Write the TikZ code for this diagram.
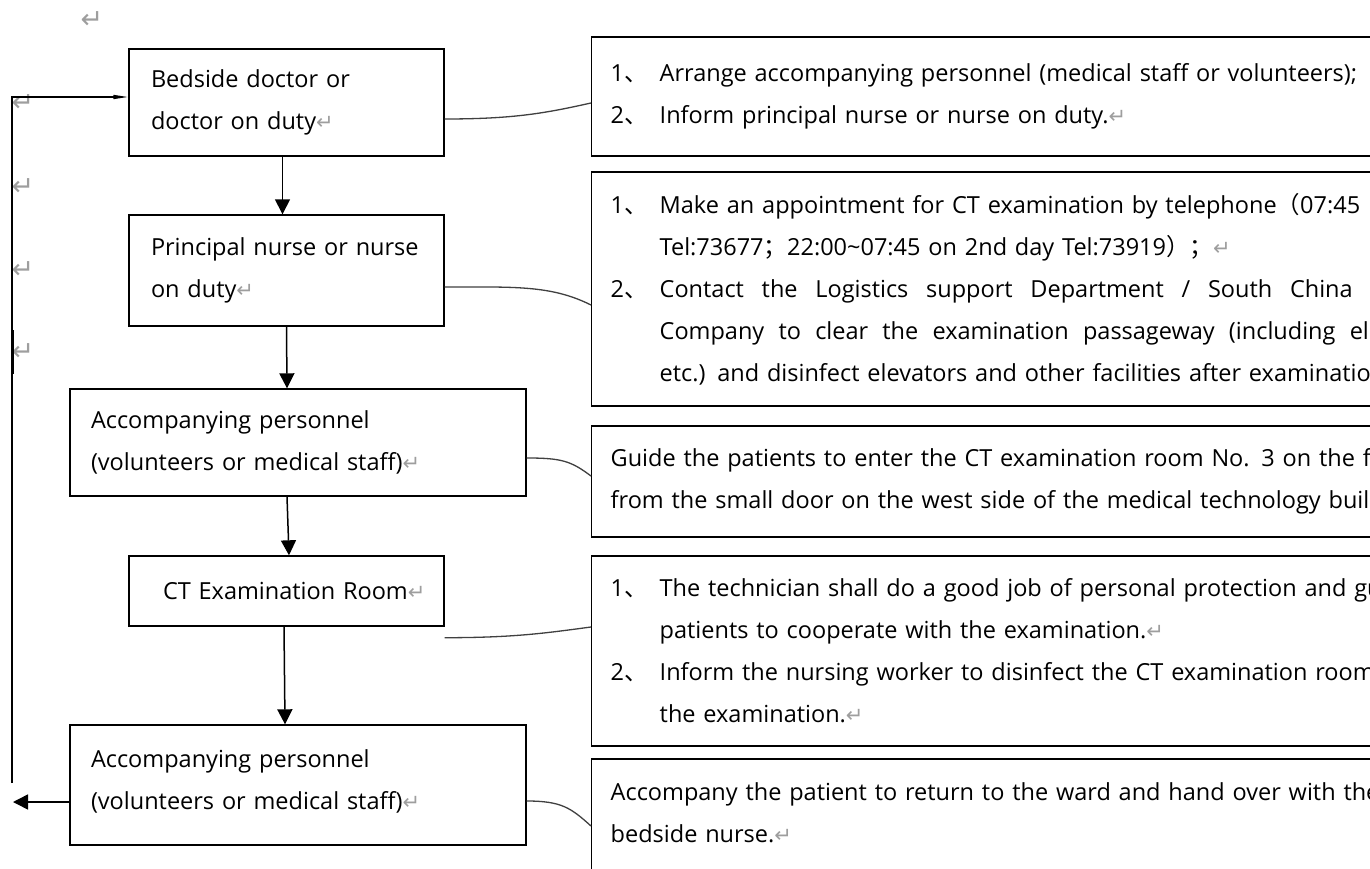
\documentclass[tikz,border=0pt]{standalone}
\usepackage{fontspec}
\setmainfont{Open Sans}
\newfontfamily\cjk{Noto Sans CJK SC}
\newfontfamily\symfont{DejaVu Sans}
\usetikzlibrary{arrows.meta,calc}

\newcommand{\mainsize}{\fontsize{23.5}{42}\selectfont}
\newcommand{\pmk}{{\symfont\fontsize{21}{21}\selectfont\textcolor{black!38}{↵}}}
\newcommand{\itemno}[1]{\makebox[49pt][l]{#1{\cjk 、}}}
\newcommand{\indentno}{\hspace*{49pt}}
\newcommand{\spreadline}[2]{\makebox[#1][s]{\spaceskip=0.26em plus 1fil\relax #2}}

\tikzset{
  stepbox/.style={draw, line width=1.4pt, inner xsep=22pt, align=left, font=\mainsize},
  notebox/.style={draw, line width=1.4pt, anchor=west, inner xsep=19pt, text width=1000pt, align=left, font=\mainsize},
  flow/.style={line width=1.5pt, -{Triangle[length=15pt,width=15pt]}},
  link/.style={line width=1.3pt, black!75},
  pmark/.style={text=black!38, font=\symfont\fontsize{27}{27}\selectfont, inner sep=0pt}
}

\begin{document}
\begin{tikzpicture}[x=1pt, y=-1pt]
	\useasboundingbox (0,0) rectangle (1370,869);
	\fill[white] (0,0) rectangle (1370,869);
	\clip (0,0) rectangle (1370,869);

	% steps on the left
	\node[stepbox, text width=271pt, minimum height=107pt] (b1) at (286.5,102.5) {Bedside doctor or\\doctor on duty\pmk};
	\node[stepbox, text width=271pt, minimum height=111pt] (b2) at (286.5,270.5) {\mbox{Principal nurse or nurse}\\on duty\pmk};
	\node[stepbox, inner xsep=21pt, text width=414pt, minimum height=107pt] (b3) at (298,442.5) {Accompanying personnel\\\mbox{(volunteers or medical staff)\pmk}};
	\node[stepbox, text width=271pt, minimum height=70pt] (b4) at (286.5,591) {\hspace*{12pt}\mbox{CT Examination Room\pmk}};
	\node[stepbox, inner xsep=21pt, text width=414pt, minimum height=120pt] (b5) at (298,785) {Accompanying personnel\\\mbox{(volunteers or medical staff)\pmk}\\[-32pt]\mbox{}};

	% notes on the right
	\node[notebox, minimum height=119pt] (r1) at (591,96.5) {\itemno{1}Arrange accompanying personnel (medical staff or volunteers);\\
		\itemno{2}Inform principal nurse or nurse on duty.\pmk};
	\node[notebox, minimum height=234pt] (r2) at (591,289) {\itemno{1}Make an appointment for CT examination by telephone{\cjk （}07:45\\
		\indentno Tel:73677{\cjk ；}22:00\textasciitilde07:45 on 2nd day Tel:73919{\cjk ）；}\pmk\\
		\itemno{2}\spreadline{693pt}{Contact the Logistics support Department / South China}\\
		\indentno\spreadline{790pt}{Company to clear the examination passageway (including elevators}\\
		\indentno etc.) and disinfect elevators and other facilities after examination};
	\node[notebox, minimum height=111pt] (r3) at (591,481.5) {Guide the patients to enter the CT examination room No. 3 on the first\\
		from the small door on the west side of the medical technology building};
	\node[notebox, minimum height=190pt] (r4) at (591,651) {\itemno{1}The technician shall do a good job of personal protection and guide\\
		\indentno patients to cooperate with the examination.\pmk\\
		\itemno{2}Inform the nursing worker to disinfect the CT examination room\\
		\indentno the examination.\pmk};
	\node[notebox, minimum height=150pt] (r5) at (591,834) {Accompany the patient to return to the ward and hand over with the\\
		bedside nurse.\pmk\\ \mbox{}};

	% stray marks
	\node[pmark] (m0) at (92,20) {↵};
	\node[pmark] (m1) at (23,103) {↵};
	\node[pmark] (m2) at (23,187) {↵};
	\node[pmark] (m3) at (23,270) {↵};
	\node[pmark] (m4) at (23,352) {↵};

	% flow
	\draw[flow] ($(b1.south)+(-4,0)$) -- ($(b2.north)+(-4,0)$);
	\draw[flow] (b2.south) -- ($(b3.north)+(-11,0)$);
	\draw[flow] ($(b3.south)+(-11,0)$) -- ($(b4.north)+(2.5,0)$);
	\draw[flow] ($(b4.south)+(-2.5,0)$) -- ($(b5.north)+(-13,0)$);

	% back to the ward
	\coordinate (looptop) at (12,97);
	\coordinate (loopbot) at (12,783);
	\coordinate (backtip) at (13,802);
	\draw[flow] (backtip -| b5.west) -- (backtip);
	\draw[line width=1.5pt, -{Triangle[length=15pt,width=4pt]}] (loopbot) -- (looptop) -- (looptop -| b1.west);
	\draw[line width=3pt] (12.5,330) -- (12.5,374);

	% links to the notes
	\draw[link] ($(b1.east)+(0,16.5)$) .. controls +(70,0) and +(-45,10) .. ($(r1.west)+(0,6.5)$);
	\draw[link] ($(b2.east)+(0,16.5)$) .. controls +(70,0) and +(-40,-20) .. ($(r2.west)+(0,16)$);
	\draw[link] ($(b3.east)+(0,15.5)$) .. controls +(35,0) and +(-20,-15) .. ($(r3.west)+(0,-5.5)$);
	\draw[link] ($(b4.south east)+(0,11)$) .. controls +(70,0) and +(-45,6) .. ($(r4.west)+(0,-24)$);
	\draw[link] ($(b5.east)+(0,16)$) .. controls +(35,0) and +(-20,-18) .. ($(r5.west)+(0,-8)$);
\end{tikzpicture}
\end{document}
